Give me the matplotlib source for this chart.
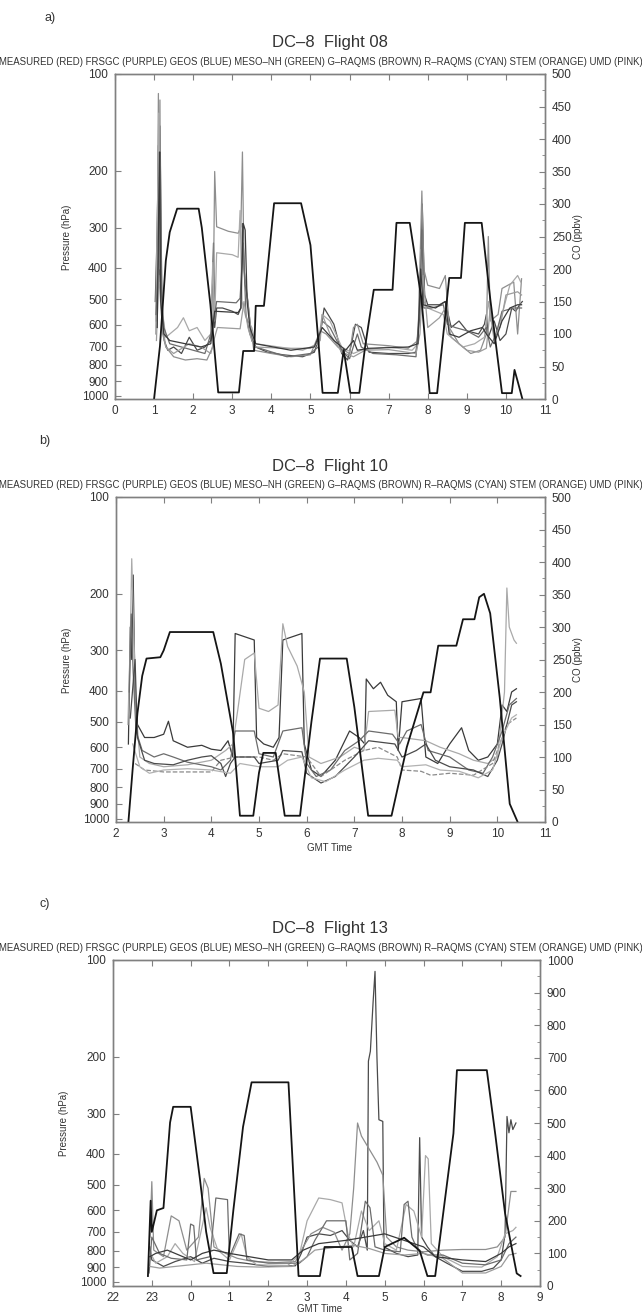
import matplotlib.pyplot as plt
from matplotlib.ticker import MultipleLocator, NullLocator

plt.rcParams['font.family'] = ['Liberation Sans', 'DejaVu Sans']

legend_line = ("MEASURED (RED) FRSGC (PURPLE) GEOS (BLUE) MESO\u2013NH (GREEN) "
               "G\u2013RAQMS (BROWN) R\u2013RAQMS (CYAN) STEM (ORANGE) UMD (PINK)")
pres_ticks = [100, 200, 300, 400, 500, 600, 700, 800, 900, 1000]

# ---- Flight 08 : (GMT hour, pressure hPa) and (GMT hour, CO ppbv)
f08_track = [(1.00, 1020), (1.15, 700), (1.30, 380), (1.40, 310), (1.59, 262), (2.14, 262),
             (2.22, 300), (2.44, 520), (2.64, 975), (3.17, 975), (3.28, 725), (3.56, 725),
             (3.60, 525), (3.81, 525), (4.07, 252), (4.76, 252), (5.00, 340), (5.31, 978),
             (5.70, 978), (5.85, 720), (6.02, 978), (6.25, 978), (6.40, 700), (6.62, 468),
             (7.10, 468), (7.20, 290), (7.54, 290), (7.84, 500), (8.05, 980), (8.24, 980),
             (8.55, 430), (8.85, 430), (8.95, 290), (9.38, 290), (9.60, 500), (9.90, 980),
             (10.15, 980), (10.22, 830), (10.30, 900), (10.42, 1020)]
f08_co1 = [(1.03, 150), (1.08, 260), (1.11, 390), (1.13, 180), (1.15, 420), (1.18, 250), (1.21, 120),
           (1.26, 90), (1.35, 75), (1.5, 80), (1.7, 70), (1.9, 95), (2.1, 75), (2.3, 80), (2.45, 90),
           (2.52, 240), (2.55, 110), (2.6, 140), (2.75, 140), (3.0, 135), (3.15, 130), (3.22, 140),
           (3.26, 270), (3.32, 180), (3.4, 150), (3.5, 90), (3.6, 80), (3.9, 72), (4.3, 68), (4.8, 65),
           (5.1, 72), (5.25, 100), (5.35, 140), (5.6, 115), (5.8, 70), (5.95, 60), (6.05, 85),
           (6.15, 115), (6.3, 110), (6.5, 72), (7.0, 70), (7.5, 70), (7.7, 72), (7.8, 130), (7.86, 300),
           (7.92, 160), (8.0, 145), (8.3, 145), (8.45, 150), (8.6, 110), (8.8, 120), (9.0, 105),
           (9.3, 100), (9.45, 115), (9.5, 130), (9.55, 95), (9.7, 120), (9.85, 90), (10.0, 100),
           (10.15, 140), (10.25, 135), (10.35, 145), (10.42, 150)]
f08_co2 = [(1.05, 120), (1.09, 300), (1.11, 470), (1.13, 200), (1.15, 460), (1.17, 150), (1.22, 100),
           (1.3, 80), (1.5, 65), (1.8, 60), (2.1, 62), (2.35, 60), (2.5, 80), (2.55, 350), (2.6, 265),
           (2.9, 258), (3.15, 255), (3.22, 265), (3.26, 380), (3.3, 200), (3.38, 160), (3.45, 120),
           (3.55, 75), (4.0, 70), (4.5, 65), (5.0, 68), (5.25, 105), (5.4, 100), (5.7, 80), (6.0, 70),
           (6.1, 110), (6.2, 115), (6.35, 85), (7.0, 82), (7.5, 78), (7.75, 90), (7.85, 320),
           (7.9, 200), (8.0, 175), (8.3, 170), (8.45, 190), (8.55, 110), (8.8, 85), (9.1, 70),
           (9.35, 75), (9.5, 100), (9.55, 250), (9.6, 120), (9.8, 130), (9.9, 170), (10.2, 180),
           (10.3, 100), (10.4, 185)]
f08_co3 = [(1.04, 100), (1.1, 350), (1.12, 440), (1.14, 260), (1.2, 140), (1.3, 95), (1.6, 110),
           (1.75, 125), (1.9, 105), (2.1, 110), (2.3, 90), (2.45, 100), (2.5, 210), (2.55, 120),
           (2.6, 225), (3.0, 222), (3.15, 218), (3.2, 290), (3.25, 150), (3.35, 125), (3.5, 110),
           (3.6, 85), (4.2, 80), (4.8, 75), (5.2, 85), (5.3, 130), (5.5, 120), (5.8, 80), (6.1, 70),
           (6.3, 75), (7.0, 80), (7.6, 75), (7.75, 85), (7.82, 230), (7.9, 150), (8.0, 140),
           (8.4, 130), (8.5, 100), (8.9, 80), (9.2, 85), (9.45, 95), (9.55, 150), (9.7, 90),
           (9.9, 130), (10.1, 175), (10.3, 190), (10.38, 180)]
f08_co4 = [(1.05, 130), (1.12, 230), (1.16, 380), (1.19, 160), (1.25, 110), (1.4, 85), (1.7, 80),
           (2.0, 75), (2.3, 70), (2.5, 110), (2.6, 150), (3.1, 148), (3.2, 155), (3.28, 240),
           (3.35, 130), (3.45, 100), (3.6, 80), (4.4, 65), (5.0, 70), (5.2, 80), (5.3, 120),
           (5.5, 110), (5.8, 75), (6.0, 62), (6.2, 100), (6.3, 80), (6.6, 70), (7.2, 68), (7.7, 65),
           (7.8, 150), (7.85, 260), (7.9, 140), (8.1, 140), (8.4, 145), (8.5, 115), (8.7, 110),
           (9.0, 105), (9.3, 95), (9.5, 110), (9.6, 80), (9.75, 100), (9.9, 135), (10.2, 140),
           (10.4, 140)]
f08_co5 = [(1.06, 90), (1.12, 190), (1.2, 120), (1.3, 80), (1.5, 70), (1.9, 85), (2.2, 80),
           (2.45, 70), (2.55, 95), (2.62, 110), (3.2, 108), (3.3, 150), (3.4, 110), (3.5, 90),
           (3.6, 80), (4.3, 78), (5.0, 78), (5.25, 90), (5.3, 130), (5.5, 100), (5.8, 72), (6.1, 65),
           (6.4, 75), (7.0, 76), (7.7, 70), (7.8, 100), (7.88, 190), (8.0, 110), (8.3, 125),
           (8.45, 140), (8.6, 95), (9.0, 75), (9.3, 72), (9.5, 78), (9.6, 140), (9.7, 95),
           (9.85, 110), (10.0, 160), (10.3, 165), (10.4, 160)]
f08_co6 = [(1.08, 110), (1.12, 300), (1.14, 380), (1.17, 150), (1.25, 100), (1.4, 90), (1.8, 85),
           (2.2, 80), (2.45, 85), (2.55, 135), (3.15, 133), (3.22, 140), (3.28, 270), (3.33, 260),
           (3.38, 150), (3.45, 110), (3.6, 85), (4.5, 75), (5.1, 80), (5.3, 110), (5.6, 90),
           (5.9, 75), (6.1, 90), (6.2, 75), (6.5, 78), (7.5, 80), (7.75, 85), (7.82, 200),
           (7.88, 145), (8.2, 140), (8.45, 150), (8.55, 100), (8.8, 95), (9.1, 105), (9.4, 110),
           (9.5, 100), (9.7, 85), (9.9, 120), (10.1, 140), (10.3, 145), (10.4, 145)]

# ---- Flight 10
f10_track = [(2.26, 1025), (2.35, 700), (2.45, 470), (2.55, 360), (2.64, 318), (2.93, 315),
             (3.00, 300), (3.13, 263), (4.04, 263), (4.20, 330), (4.46, 545), (4.60, 980),
             (4.88, 980), (5.00, 720), (5.09, 625), (5.35, 625), (5.54, 980), (5.86, 980),
             (6.10, 500), (6.28, 318), (6.84, 318), (7.00, 450), (7.29, 980), (7.78, 980),
             (8.10, 600), (8.45, 405), (8.60, 405), (8.76, 290), (9.14, 290), (9.28, 240),
             (9.52, 240), (9.62, 205), (9.72, 200), (9.85, 230), (10.05, 420), (10.26, 900),
             (10.42, 1020)]
f10_co1 = [(2.26, 120), (2.3, 300), (2.33, 250), (2.36, 380), (2.4, 200), (2.45, 150), (2.6, 130),
           (2.8, 130), (3.0, 135), (3.1, 155), (3.2, 125), (3.5, 115), (3.8, 118), (4.0, 112),
           (4.2, 110), (4.35, 125), (4.45, 100), (4.5, 290), (4.7, 285), (4.9, 280), (4.95, 130),
           (5.1, 120), (5.3, 115), (5.42, 130), (5.5, 280), (5.7, 285), (5.9, 290), (5.95, 120),
           (6.1, 80), (6.3, 70), (6.6, 95), (6.9, 140), (7.1, 130), (7.22, 120), (7.25, 220),
           (7.4, 205), (7.55, 215), (7.7, 195), (7.88, 185), (7.92, 110), (8.0, 185), (8.4, 190),
           (8.5, 100), (8.75, 90), (9.0, 120), (9.25, 145), (9.4, 110), (9.6, 95), (9.8, 100),
           (10.0, 120), (10.1, 180), (10.2, 170), (10.3, 200), (10.4, 205)]
f10_co2 = [(2.25, 150), (2.3, 280), (2.33, 405), (2.37, 300), (2.42, 170), (2.5, 100), (2.7, 90),
           (3.0, 85), (3.5, 88), (4.0, 95), (4.3, 110), (4.45, 120), (4.55, 170), (4.7, 250),
           (4.9, 260), (5.0, 175), (5.2, 170), (5.4, 180), (5.5, 305), (5.6, 270), (5.8, 240),
           (5.95, 200), (6.05, 100), (6.3, 90), (6.7, 100), (7.0, 115), (7.2, 110), (7.3, 170),
           (7.85, 172), (7.92, 130), (8.0, 130), (8.5, 125), (8.8, 115), (9.2, 105), (9.5, 95),
           (9.8, 90), (10.0, 100), (10.15, 200), (10.2, 360), (10.25, 300), (10.35, 280),
           (10.4, 275)]
f10_co3 = [(2.28, 200), (2.32, 320), (2.36, 230), (2.42, 140), (2.55, 110), (2.8, 100), (3.0, 105),
           (3.2, 100), (3.5, 92), (4.0, 85), (4.2, 80), (4.4, 95), (4.5, 140), (4.9, 140),
           (5.0, 105), (5.3, 100), (5.5, 140), (5.9, 145), (6.0, 90), (6.2, 70), (6.5, 80),
           (6.8, 110), (7.1, 125), (7.3, 140), (7.8, 135), (7.95, 120), (8.1, 140), (8.4, 150),
           (8.55, 110), (9.0, 100), (9.4, 80), (9.7, 75), (9.9, 100), (10.1, 140), (10.25, 180),
           (10.4, 190)]
f10_co4 = [(2.4, 90), (2.6, 80), (3.0, 77), (3.5, 77), (4.0, 77), (4.2, 95), (4.5, 100), (5.0, 100),
           (5.3, 95), (5.5, 105), (6.0, 100), (6.3, 70), (6.8, 95), (7.2, 110), (7.5, 115),
           (7.9, 100), (8.0, 80), (8.4, 78), (8.6, 72), (9.0, 75), (9.5, 72), (9.9, 90),
           (10.2, 150), (10.4, 160)]
f10_co5 = [(2.3, 160), (2.4, 250), (2.45, 130), (2.6, 95), (2.8, 90), (3.2, 88), (3.5, 95),
           (3.8, 100), (4.0, 102), (4.2, 90), (4.3, 70), (4.4, 90), (4.5, 100), (4.9, 100),
           (5.0, 90), (5.4, 95), (5.5, 110), (5.9, 108), (6.0, 75), (6.3, 60), (6.6, 70), (7.0, 100),
           (7.3, 125), (7.85, 120), (8.0, 100), (8.3, 110), (8.5, 120), (8.7, 95), (9.0, 85),
           (9.5, 80), (9.8, 70), (10.0, 95), (10.1, 120), (10.2, 150), (10.3, 180), (10.4, 185)]
f10_co6 = [(2.35, 120), (2.5, 85), (2.7, 75), (3.0, 80), (3.5, 82), (4.0, 80), (4.4, 75), (4.6, 90),
           (5.0, 85), (5.4, 85), (5.6, 95), (5.9, 100), (6.1, 68), (6.4, 62), (6.8, 80), (7.2, 95),
           (7.5, 98), (7.9, 95), (8.0, 85), (8.5, 88), (8.8, 80), (9.2, 78), (9.6, 68), (9.9, 80),
           (10.1, 130), (10.3, 160), (10.4, 165)]

# ---- Flight 13 (hours past 22 GMT continue beyond 24)
f13_track = [(22.90, 960), (22.97, 560), (23.00, 700), (23.13, 600), (23.30, 590), (23.47, 320),
             (23.55, 286), (24.00, 286), (24.24, 480), (24.40, 700), (24.59, 940), (24.93, 940),
             (25.10, 600), (25.35, 330), (25.57, 240), (26.52, 240), (26.78, 960), (27.33, 960),
             (27.45, 780), (28.15, 780), (28.30, 960), (28.85, 960), (29.00, 780), (29.50, 730),
             (29.90, 800), (30.10, 960), (30.30, 960), (30.60, 500), (30.77, 346), (30.86, 220),
             (31.63, 220), (31.85, 350), (32.10, 613), (32.40, 942), (32.50, 960)]
f13_co1 = [(22.95, 120), (23.0, 80), (23.3, 60), (23.6, 75), (24.0, 90), (24.3, 70), (24.6, 85),
           (25.0, 75), (25.4, 70), (26.0, 60), (26.7, 62), (26.85, 100), (27.0, 150), (27.3, 160),
           (27.6, 155), (27.9, 170), (28.1, 140), (28.3, 120), (28.45, 170), (28.55, 110),
           (28.58, 690), (28.63, 720), (28.7, 870), (28.75, 965), (28.8, 700), (28.85, 510),
           (28.95, 505), (28.98, 120), (29.3, 100), (29.6, 90), (29.85, 95), (29.9, 455),
           (29.95, 150), (30.1, 120), (30.3, 90), (30.6, 70), (31.0, 45), (31.5, 45), (31.8, 55),
           (32.0, 80), (32.1, 160), (32.15, 520), (32.2, 470), (32.25, 510), (32.3, 480),
           (32.38, 500)]
f13_co2 = [(22.95, 150), (23.0, 320), (23.05, 110), (23.3, 90), (23.5, 215), (23.7, 200),
           (23.9, 110), (24.2, 150), (24.35, 330), (24.45, 300), (24.6, 120), (24.9, 100),
           (25.2, 85), (25.6, 75), (26.2, 72), (26.7, 75), (26.9, 120), (27.1, 160), (27.4, 180),
           (27.7, 165), (27.9, 110), (28.1, 160), (28.2, 300), (28.3, 500), (28.4, 460),
           (28.6, 420), (28.8, 380), (28.95, 340), (29.05, 150), (29.3, 120), (29.6, 110),
           (30.0, 105), (30.5, 110), (31.0, 112), (31.6, 112), (31.9, 120), (32.1, 150),
           (32.25, 290), (32.38, 290)]
f13_co3 = [(22.97, 100), (23.1, 70), (23.4, 90), (23.6, 130), (23.8, 100), (24.1, 75), (24.4, 240),
           (24.5, 180), (24.7, 110), (25.0, 80), (25.3, 160), (25.45, 90), (25.7, 65), (26.5, 63),
           (26.8, 95), (27.0, 200), (27.3, 270), (27.6, 265), (27.9, 255), (28.05, 160),
           (28.2, 120), (28.4, 230), (28.6, 170), (28.85, 200), (29.0, 130), (29.3, 110),
           (29.55, 250), (29.75, 230), (29.95, 150), (30.05, 400), (30.12, 390), (30.2, 130),
           (30.5, 90), (31.0, 60), (31.5, 58), (31.9, 90), (32.1, 160), (32.3, 170), (32.38, 180)]
f13_co4 = [(22.93, 40), (23.0, 150), (23.2, 100), (23.5, 85), (23.9, 80), (24.0, 190), (24.08, 185),
           (24.15, 80), (24.5, 90), (24.65, 270), (24.95, 265), (25.0, 90), (25.25, 160),
           (25.38, 155), (25.45, 80), (26.0, 70), (26.8, 70), (27.0, 90), (27.2, 140), (27.5, 200),
           (28.0, 200), (28.1, 80), (28.3, 100), (28.5, 260), (28.62, 240), (28.75, 120),
           (29.0, 110), (29.4, 105), (29.5, 250), (29.6, 260), (29.7, 150), (29.85, 110),
           (30.1, 95), (30.5, 95), (31.0, 70), (31.6, 65), (32.0, 80), (32.2, 130), (32.38, 150)]
f13_co5 = [(22.95, 60), (23.2, 55), (23.6, 60), (24.0, 65), (24.4, 70), (24.8, 65), (25.2, 60),
           (25.8, 58), (26.6, 60), (26.9, 80), (27.2, 110), (27.8, 120), (28.2, 125), (28.6, 115),
           (29.0, 100), (29.5, 95), (30.0, 100), (30.5, 85), (31.0, 40), (31.6, 40), (32.0, 60),
           (32.2, 95), (32.38, 100)]
f13_co6 = [(22.95, 90), (23.1, 100), (23.4, 110), (23.7, 95), (24.0, 80), (24.3, 100), (24.6, 110),
           (25.0, 100), (25.5, 90), (26.0, 80), (26.6, 80), (26.9, 110), (27.3, 130), (28.0, 140),
           (28.5, 150), (29.0, 160), (29.5, 140), (30.0, 120), (30.3, 90), (31.0, 80), (31.6, 75),
           (32.0, 100), (32.2, 120), (32.38, 130)]

grays = ['#4a4a4a', '#8e8e8e', '#a9a9a9', '#6c6c6c', '#9c9c9c', '#3a3a3a']

W, H = 642, 1315
fig = plt.figure(figsize=(W / 100, H / 100), dpi=100)
TXT = '#333333'
FRAME = '#808080'


def px(l, t, r, b):
    return [l / W, 1 - b / H, (r - l) / W, (b - t) / H]


def panel(box, track, series, styles, xlim, xlabels, pbot, co_max, co_major, co_minor):
    l, t, r, b = box
    ax = fig.add_axes(px(l, t, r, b))
    ax2 = ax.twinx()
    for s, (c, ls) in zip(series, styles):
        tt, vv = zip(*s)
        ax2.plot(tt, vv, color=c, lw=0.9, ls=ls)
    tt, pp = zip(*track)
    ax.plot(tt, pp, color='#151515', lw=1.3)
    ax.set_zorder(ax2.get_zorder() + 1)
    ax.patch.set_visible(False)

    ax.set_yscale('log')
    ax.set_ylim(pbot, 100)
    ax.set_yticks(pres_ticks, labels=[str(v) for v in pres_ticks])
    ax.yaxis.set_minor_locator(NullLocator())
    ax.set_xlim(*xlim)
    ax.set_xticks(range(xlim[0], xlim[1] + 1), labels=xlabels)
    ax2.set_ylim(0, co_max)
    ax2.yaxis.set_major_locator(MultipleLocator(co_major))
    ax2.yaxis.set_minor_locator(MultipleLocator(co_minor))

    for a in (ax, ax2):
        for sp in a.spines.values():
            sp.set_color(FRAME)
            sp.set_linewidth(1.0)
        a.tick_params(which='major', direction='in', length=4, width=0.8, color=FRAME,
                      labelsize=8.5, labelcolor=TXT, pad=5)
        a.tick_params(which='minor', direction='in', length=2, width=0.6, color=FRAME)
    ax.tick_params(axis='x', top=True, pad=4)
    return ax


# panel a
fig.text(50 / W, 1 - 18 / H, 'a)', fontsize=9, color=TXT, ha='center', va='center')
fig.text(330 / W, 1 - 43 / H, 'DC\u20138  Flight 08', fontsize=12, color=TXT, ha='center', va='center')
fig.text(321 / W, 1 - 62 / H, legend_line, fontsize=6.9, color=TXT, ha='center', va='center')
panel((115, 74, 545, 399), f08_track, [f08_co1, f08_co2, f08_co3, f08_co4, f08_co5, f08_co6],
      [(c, '-') for c in grays], (0, 11), [str(i) for i in range(12)], 1022, 500, 50, 25)
fig.text(67 / W, 1 - 237 / H, 'Pressure (hPa)', rotation=90, fontsize=7, color=TXT, ha='center', va='center')
fig.text(578 / W, 1 - 237 / H, 'CO (ppbv)', rotation=90, fontsize=7, color=TXT, ha='center', va='center')

# panel b
fig.text(45 / W, 1 - 441 / H, 'b)', fontsize=9, color=TXT, ha='center', va='center')
fig.text(330 / W, 1 - 466 / H, 'DC\u20138  Flight 10', fontsize=12, color=TXT, ha='center', va='center')
fig.text(321 / W, 1 - 485 / H, legend_line, fontsize=6.9, color=TXT, ha='center', va='center')
b_styles = [(grays[5], '-'), (grays[2], '-'), (grays[3], '-'), ('#8a8a8a', '--'), (grays[0], '-'), ('#b2b2b2', '-')]
panel((116, 497, 545, 822), f10_track, [f10_co1, f10_co2, f10_co3, f10_co4, f10_co5, f10_co6],
      b_styles, (2, 11), [str(i) for i in range(2, 12)], 1025, 500, 50, 25)
fig.text(67 / W, 1 - 660 / H, 'Pressure (hPa)', rotation=90, fontsize=7, color=TXT, ha='center', va='center')
fig.text(578 / W, 1 - 660 / H, 'CO (ppbv)', rotation=90, fontsize=7, color=TXT, ha='center', va='center')
fig.text(330 / W, 1 - 848 / H, 'GMT Time', fontsize=7, color=TXT, ha='center', va='center')

# panel c
fig.text(45 / W, 1 - 904 / H, 'c)', fontsize=9, color=TXT, ha='center', va='center')
fig.text(330 / W, 1 - 929 / H, 'DC\u20138  Flight 13', fontsize=12, color=TXT, ha='center', va='center')
fig.text(321 / W, 1 - 948 / H, legend_line, fontsize=6.9, color=TXT, ha='center', va='center')
c_labels = ['22', '23'] + [str(i) for i in range(10)]
panel((113, 960, 540, 1286), f13_track, [f13_co1, f13_co2, f13_co3, f13_co4, f13_co5, f13_co6],
      [(c, '-') for c in grays], (22, 33), c_labels, 1031, 1000, 100, 50)
fig.text(64 / W, 1 - 1123 / H, 'Pressure (hPa)', rotation=90, fontsize=7, color=TXT, ha='center', va='center')
fig.text(320 / W, 1 - 1309 / H, 'GMT Time', fontsize=7, color=TXT, ha='center', va='center')

fig.savefig('out.png', dpi=100, facecolor='white')
